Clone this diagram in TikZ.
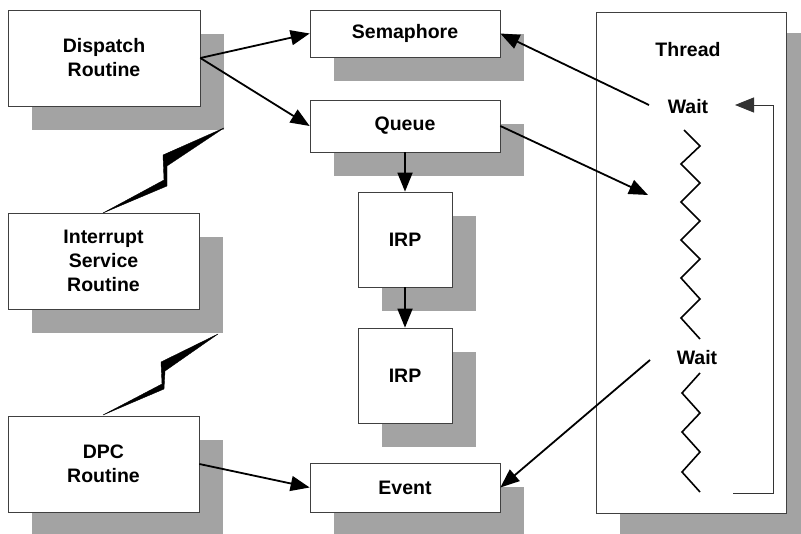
\documentclass[tikz,border=0pt]{standalone}
\usepackage{fontspec}
\setmainfont{Liberation Sans}
\usetikzlibrary{arrows.meta,shadows}
\begin{document}
\begin{tikzpicture}[x=1pt,y=-1pt,
  box/.style={draw=black!75, line width=0.7pt, fill=white, align=center,
    font=\bfseries\fontsize{19.5}{24}\selectfont, inner sep=0pt,
    drop shadow={shadow xshift=24pt, shadow yshift=-24pt, fill=black!36, opacity=1}},
  lbl/.style={font=\bfseries\fontsize{19.5}{24}\selectfont, inner sep=0pt},
  arr/.style={line width=1.8pt, -{Triangle[length=19pt,width=15pt]}},
  thin/.style={line width=0.9pt, draw=black!80, -{Triangle[length=19pt,width=15pt]}},
  zig/.style={line width=1.6pt, line join=miter},
  bolt/.style={fill=black, draw=black, line width=0.4pt, line join=miter}]
\clip (0,0) rectangle (801,534);
\fill[white] (0,0) rectangle (801,534);

% Thread box
\node[box, minimum width=190pt, minimum height=501pt, drop shadow={shadow xshift=24pt, shadow yshift=-21pt, fill=black!36, opacity=1}] (thread) at (691,262.5) {};
\node[lbl] (threadlbl) at (688,50) {Thread};
\node[lbl] (wait1) at (688,107) {Wait};
\node[lbl] (wait2) at (697,358) {Wait};

% left column
\node[box, minimum width=192pt, minimum height=96pt] (dispatch) at (104,58) {Dispatch\\Routine};
\node[box, minimum width=191pt, minimum height=96pt] (isr) at (103.5,261) {Interrupt\\Service\\Routine};
\node[box, minimum width=191pt, minimum height=96pt] (dpc) at (103.5,464) {DPC\\Routine};

% middle column
\node[box, minimum width=190pt, minimum height=47pt] (sem) at (405,33.5) {Semaphore};
\node[box, minimum width=190pt, minimum height=52pt] (queue) at (405,126) {Queue};
\node[box, minimum width=94pt, minimum height=95pt] (irp1) at (405,239.5) {IRP};
\node[box, minimum width=94pt, minimum height=95pt] (irp2) at (405,375.5) {IRP};
\node[box, minimum width=190pt, minimum height=49pt] (event) at (405,487.5) {Event};

% coordinates
\coordinate (w1s) at (649,105);
\coordinate (w2s) at (650,360);
\coordinate (qend) at (648,195);
\coordinate (loopstart) at (733,493);
\coordinate (loopend) at (735,105);

% arrows
\draw[arr] (dispatch.east) -- (sem.west);
\draw[arr] (dispatch.east) -- (queue.west);
\draw[arr] (queue.south) -- (irp1.north);
\draw[arr] (irp1.south) -- (irp2.north);
\draw[arr] (queue.east) -- (qend);
\draw[arr] (w1s) -- (sem.east);
\draw[arr] (w2s) -- (event.east);
\draw[arr] (dpc.east) -- (event.west);
\draw[thin] (loopstart) -- (773,493) -- (773,105) -- (loopend);

% zigzags
\draw[zig] (684,130) -- (700,146) -- (681,164) -- (700,183) -- (681,202) -- (700,221)
  -- (681,240) -- (700,259) -- (681,278) -- (700,299) -- (681,318) -- (700,339);
\draw[zig] (700,373) -- (682,393) -- (700,413) -- (682,432) -- (700,452) -- (682,472) -- (700,492);

% lightning bolts
\draw[bolt] (224,128) -- (163,155) -- (164,180) -- (103,213) -- (167,186) -- (167,166) -- cycle;
\draw[bolt] (218,334) -- (161,362) -- (162,384) -- (103,415) -- (164,389) -- (165,371) -- cycle;
\end{tikzpicture}
\end{document}
